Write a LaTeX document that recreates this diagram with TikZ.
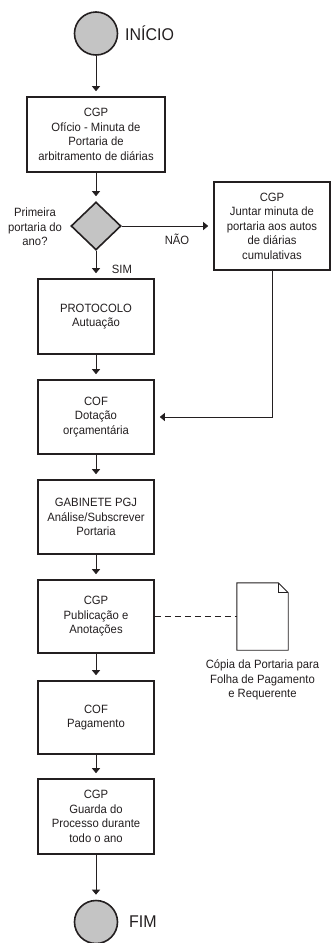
\documentclass[tikz,border=0pt]{standalone}
\usepackage{fontspec}
\setmainfont{Liberation Sans}[FakeStretch=0.94]
\usetikzlibrary{shapes.geometric,arrows.meta}
\definecolor{fillgray}{RGB}{196,196,196}
\definecolor{ink}{RGB}{35,31,32}
\tikzset{
  stepbox/.style={draw=ink,line width=1.6pt,fill=white,align=center,inner sep=2pt,
    minimum width=116pt,minimum height=75pt,text=ink,
    font=\fontsize{12}{14.5}\selectfont},
  terminal/.style={circle,draw=ink,line width=1.6pt,fill=fillgray,minimum size=43pt,inner sep=0pt},
  decision/.style={diamond,draw=ink,line width=1.6pt,fill=fillgray,minimum width=50pt,minimum height=48pt,inner sep=0pt},
  lbl/.style={align=center,text=ink,font=\fontsize{12}{14.5}\selectfont},
  bigl/.style={text=ink,font=\fontsize{17}{20}\selectfont,anchor=west,inner sep=0pt},
  flow/.style={draw=ink,line width=0.9pt,-{Triangle[length=5pt,width=8pt]},shorten >=5pt},
  dashline/.style={draw=ink,line width=0.9pt,dash pattern=on 6pt off 4pt},
}
\begin{document}
\begin{tikzpicture}[x=1pt,y=-1pt]
\useasboundingbox (0,0) rectangle (331,943);
\node[terminal] (ini) at (96,33.5) {};
\node[bigl] (inil) at (125,33.5) {INÍCIO};
\node[stepbox,minimum width=138pt] (b1) at (96,134.5) {CGP\\Ofício - Minuta de\\Portaria de\\arbitramento de diárias};
\node[decision] (d) at (96,226) {};
\node[lbl] (dl) at (35,227) {Primeira\\portaria do\\ano?};
\node[stepbox,minimum width=116pt,minimum height=88pt] (b2) at (272,226) {CGP\\Juntar minuta de\\portaria aos autos\\de diárias\\cumulativas};
\node[lbl] (nao) at (177,239) {NÃO};
\node[lbl] (sim) at (122,269) {SIM};
\node[stepbox] (prot) at (96,316.5) {PROTOCOLO\\Autuação};
\node[stepbox,minimum height=74pt] (cof) at (96,417) {COF\\Dotação\\orçamentária};
\node[stepbox,minimum height=74pt] (gab) at (96,517) {GABINETE PGJ\\Análise/Subscrever\\Portaria};
\node[stepbox,minimum height=73pt] (pub) at (96,616.5) {CGP\\Publicação e\\Anotações};
\node[stepbox,minimum height=73pt] (pag) at (96,717.5) {COF\\Pagamento};
\node[stepbox] (gua) at (96,816.5) {CGP\\Guarda do\\Processo durante\\todo o ano};
\node[terminal] (fim) at (96,922) {};
\node[bigl] (fiml) at (129,922) {FIM};
% document
\node[minimum width=51pt,minimum height=67pt,inner sep=0pt] (doc) at (262.5,616.5) {};
\draw[ink,line width=0.9pt,fill=white] (doc.south west) -- (doc.north west) -- ([xshift=-10pt]doc.north east) -- ([yshift=-10pt]doc.north east) -- (doc.south east) -- cycle;
\draw[ink,line width=0.9pt] ([xshift=-10pt]doc.north east) -- ([xshift=-10pt,yshift=-10pt]doc.north east) -- ([yshift=-10pt]doc.north east);
\node[lbl,anchor=north] (docl) at ([yshift=-6pt]doc.south) {Cópia da Portaria para\\Folha de Pagamento\\e Requerente};
% connectors
\draw[flow] (ini) -- (b1);
\draw[flow] (b1) -- (d);
\draw[flow] (d) -- (b2);
\draw[flow] (d) -- (prot);
\draw[flow] (b2.south) |- (cof.east);
\draw[flow] (prot) -- (cof);
\draw[flow] (cof) -- (gab);
\draw[flow] (gab) -- (pub);
\draw[dashline] (pub.east) -- (doc.west);
\draw[flow] (pub) -- (pag);
\draw[flow] (pag) -- (gua);
\draw[flow] (gua) -- (fim);
\end{tikzpicture}
\end{document}
